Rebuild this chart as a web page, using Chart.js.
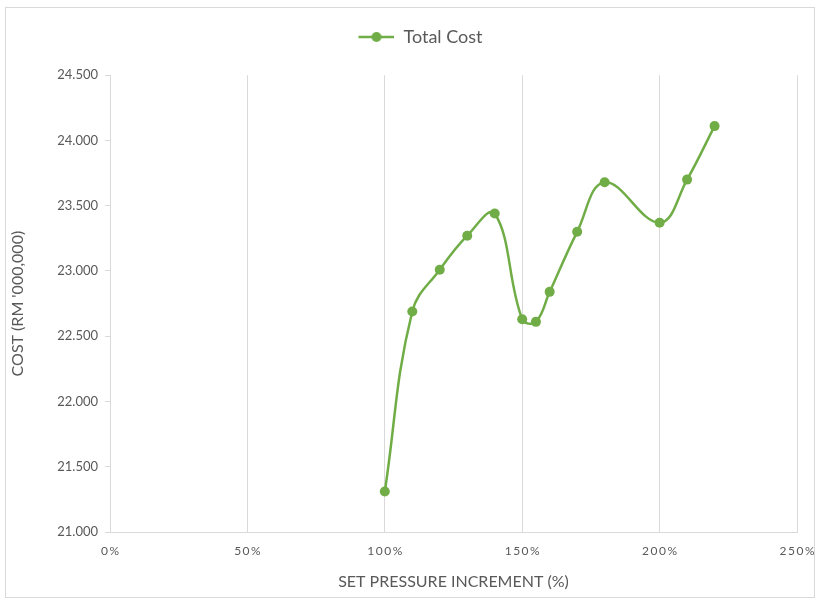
<!DOCTYPE html>
<html>
<head>
<meta charset="utf-8">
<script src="https://cdn.jsdelivr.net/npm/chart.js@4"></script>
<style>
  html, body { margin: 0; padding: 0; background: #fff; }
  #wrap { position: relative; width: 821px; height: 605px; }
  #frame { position: absolute; left: 5px; top: 7px; width: 810px; height: 591px; border: 1px solid #d9d9d9; box-sizing: border-box; pointer-events: none; }
</style>
</head>
<body>
<div id="wrap">
  <canvas id="chart" width="821" height="605"></canvas>
  <div id="frame"></div>
</div>
<script>
const pressure = [100, 110, 120, 130, 140, 150, 155, 160, 170, 180, 200, 210, 220];
const totalCost = [21.31, 22.69, 23.01, 23.27, 23.44, 22.63, 22.61, 22.84, 23.30, 23.68, 23.37, 23.70, 24.11];
const xTicks = [0, 50, 100, 150, 200, 250];
const yTicks = [21.0, 21.5, 22.0, 22.5, 23.0, 23.5, 24.0, 24.5];

const green = '#70ad47';
const textColor = '#595959';
const gridColor = '#d9d9d9';

// legend marker: line with a dot, like the spreadsheet legend
// (blank left part nudges the legend a bit right of the canvas centre)
const marker = document.createElement('canvas');
marker.width = 76;
marker.height = 12;
(function () {
    const c = marker.getContext('2d');
    c.strokeStyle = green;
    c.lineWidth = 2.5;
    c.beginPath();
    c.moveTo(40, 6);
    c.lineTo(76, 6);
    c.stroke();
    c.fillStyle = green;
    c.beginPath();
    c.arc(58, 6, 5, 0, Math.PI * 2);
    c.fill();
})();

function spaced(s) {
    return s.split('').join('\u2009');
}

new Chart(document.getElementById('chart'), {
    type: 'line',
    data: {
        datasets: [{
            label: 'Total Cost',
            data: pressure.map((p, i) => ({ x: p, y: totalCost[i] })),
            borderColor: green,
            backgroundColor: green,
            borderWidth: 2.5,
            pointRadius: 5,
            pointBorderWidth: 0,
            tension: 0.4,
            fill: false
        }]
    },
    options: {
        responsive: false,
        animation: false,
        layout: { padding: { left: 4, right: 24, top: 2, bottom: 14 } },
        plugins: {
            legend: {
                position: 'top',
                weight: 3000,
                labels: {
                    usePointStyle: true,
                    pointStyle: marker,
                    pointStyleWidth: 76,
                    color: textColor,
                    font: { family: 'Lato', size: 18 },
                    padding: 26
                }
            },
            // empty title used only as a gap between legend and plot
            title: {
                display: true,
                text: '',
                position: 'top',
                weight: 100,
                font: { size: 1 },
                padding: { top: 9, bottom: 9 }
            },
            tooltip: { enabled: false }
        },
        scales: {
            x: {
                type: 'linear',
                min: 0,
                max: 250,
                afterBuildTicks: s => { s.ticks = xTicks.map(v => ({ value: v })); },
                afterFit: s => {
                    s.height = 605 - 532 - 14;
                    s.paddingRight = 0;
                    s.paddingLeft = 0;
                },
                grid: { color: gridColor, drawTicks: false },
                border: { color: gridColor },
                ticks: {
                    color: textColor,
                    font: { family: 'Lato', size: 12 },
                    padding: 12,
                    maxRotation: 0,
                    callback: v => spaced(v + '%')
                },
                title: {
                    display: true,
                    text: 'SET PRESSURE INCREMENT (%)',
                    color: textColor,
                    font: { family: 'Lato', size: 16 },
                    padding: { top: 8, bottom: 0 }
                }
            },
            y: {
                min: 21,
                max: 24.5,
                afterBuildTicks: s => { s.ticks = yTicks.map(v => ({ value: v })); },
                afterFit: s => { s.width = 110 - 4; },
                grid: { drawOnChartArea: false, color: gridColor, tickLength: 5 },
                border: { color: gridColor },
                ticks: {
                    color: textColor,
                    font: { family: 'Lato', size: 13 },
                    padding: 7,
                    callback: v => v.toFixed(3)
                },
                title: {
                    display: true,
                    text: "COST (RM '000,000)",
                    color: textColor,
                    font: { family: 'Lato', size: 16 },
                    padding: { top: 4, bottom: 4 }
                }
            }
        }
    }
});
</script>
</body>
</html>
